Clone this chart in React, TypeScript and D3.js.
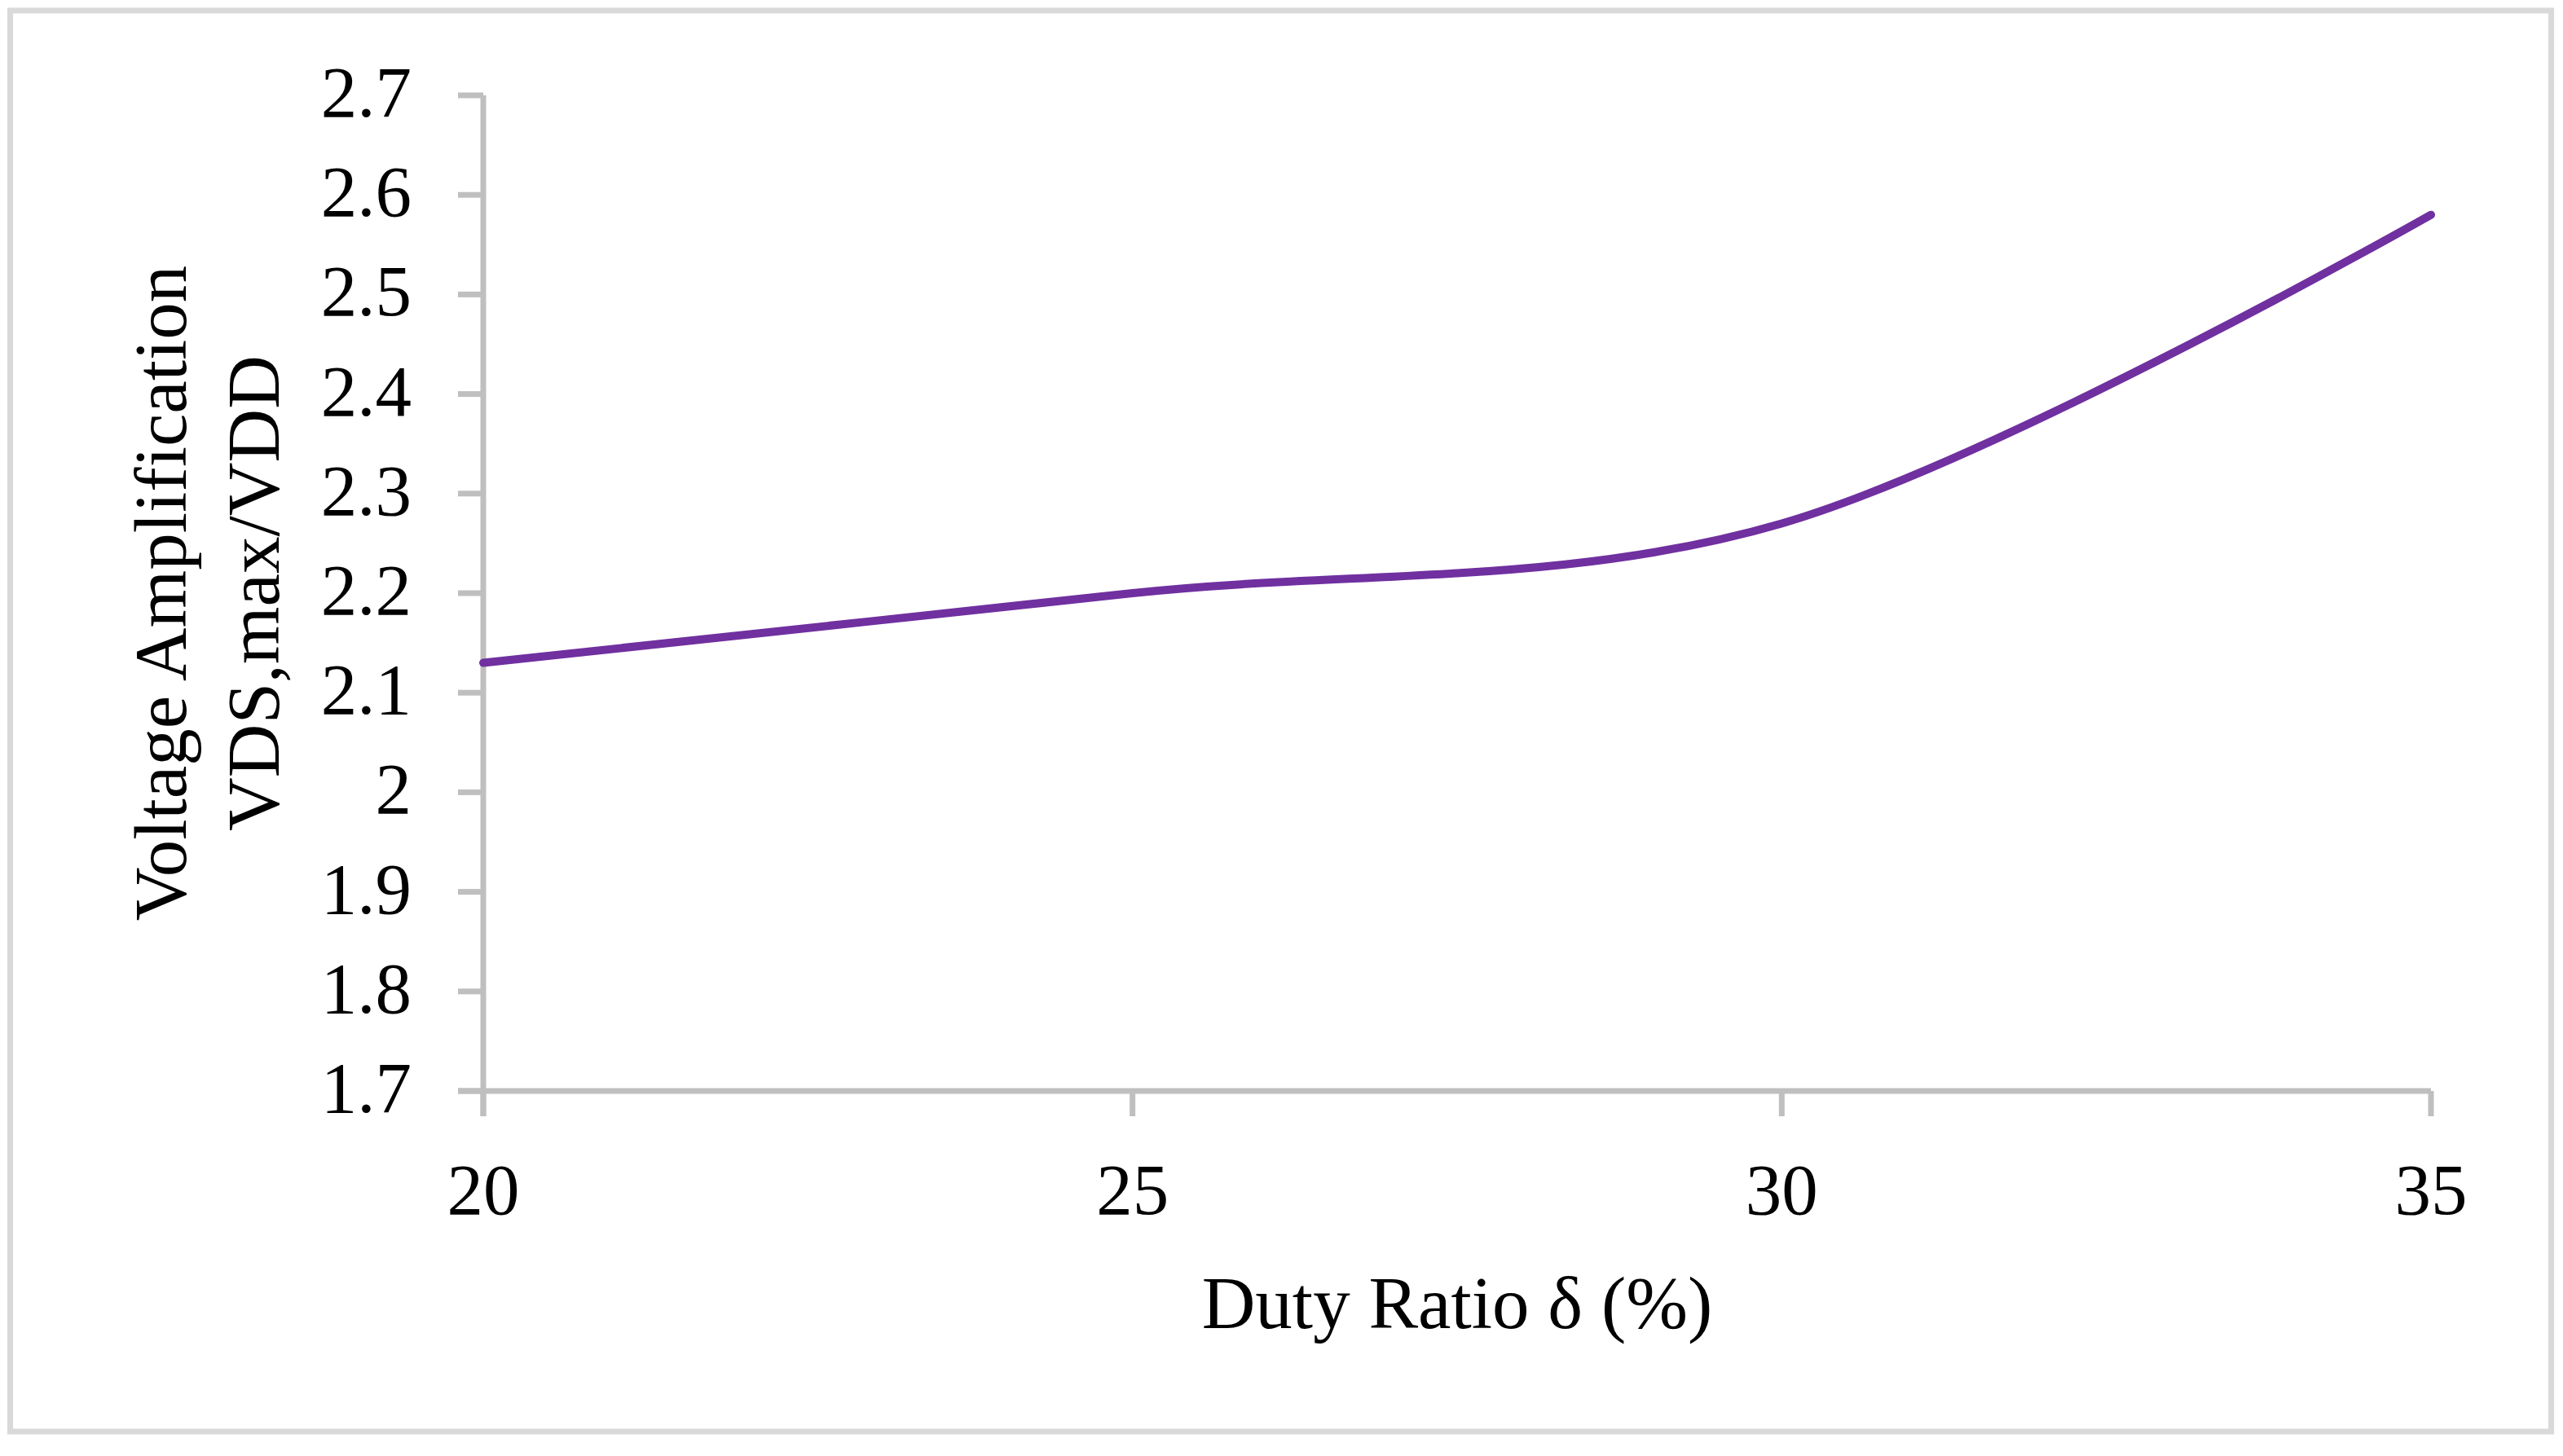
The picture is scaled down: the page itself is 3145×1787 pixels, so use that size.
import React from "react";
import * as d3 from "d3";

const dutyRatio = [20, 25, 30, 35];
const amplification = [2.13, 2.2, 2.27, 2.58];
const xTicks = [20, 25, 30, 35];
const xTickLabels = ["20", "25", "30", "35"];
const yTicks = [1.7, 1.8, 1.9, 2.0, 2.1, 2.2, 2.3, 2.4, 2.5, 2.6, 2.7];
const yTickLabels = ["1.7", "1.8", "1.9", "2", "2.1", "2.2", "2.3", "2.4", "2.5", "2.6", "2.7"];
const xTitle = "Duty Ratio δ (%)";
const yTitle1 = "Voltage Amplification";
const yTitle2 = "VDS,max/VDD";

const W = 3145;
const H = 1787;
const FONT = "'Liberation Serif', 'Times New Roman', serif";
const FS = 89;
const FS_TITLE = 91;
const AXIS = "#bfbfbf";

export default function App() {
  const x = d3.scaleLinear().domain([20, 35]).range([593, 2983]);
  const y = d3.scaleLinear().domain([1.7, 2.7]).range([1339, 117]);
  const line = d3
    .line<number>()
    .x((_, i) => x(dutyRatio[i]))
    .y((d) => y(d))
    .curve(d3.curveCardinal.tension(0));
  const path = line(amplification) || "";
  const x0 = x(20);
  const yBase = y(1.7);
  const tickLen = 31;
  const cy = (y(1.7) + y(2.7)) / 2;
  const cx = (x(20) + x(35)) / 2;

  return (
    <div style={{ position: "absolute", left: 0, top: 0, width: W, height: H, background: "#fff" }}>
      <svg width={W} height={H} viewBox={`0 0 ${W} ${H}`} style={{ display: "block" }}>
        <rect x={0} y={0} width={W} height={H} fill="#fff" />
        <rect x={12.5} y={13} width={3118} height={1744} fill="#fff" stroke="#d9d9d9" strokeWidth={7} />

        {/* y axis */}
        <line x1={x0} x2={x0} y1={y(2.7)} y2={yBase + tickLen} stroke={AXIS} strokeWidth={7} />
        {yTicks.map((t, i) => (
          <g key={"yt" + i}>
            <line x1={x0 - tickLen} x2={x0} y1={y(t)} y2={y(t)} stroke={AXIS} strokeWidth={7} />
            <text
              x={x0 - 88}
              y={y(t) + 26}
              textAnchor="end"
              fontFamily={FONT}
              fontSize={FS}
              fill="#000"
            >
              {yTickLabels[i]}
            </text>
          </g>
        ))}

        {/* x axis */}
        <line x1={x0 - tickLen} x2={x(35)} y1={yBase} y2={yBase} stroke={AXIS} strokeWidth={7} />
        {xTicks.map((t, i) => (
          <g key={"xt" + i}>
            <line x1={x(t)} x2={x(t)} y1={yBase} y2={yBase + tickLen} stroke={AXIS} strokeWidth={7} />
            <text
              x={x(t)}
              y={1490}
              textAnchor="middle"
              fontFamily={FONT}
              fontSize={FS}
              fill="#000"
            >
              {xTickLabels[i]}
            </text>
          </g>
        ))}

        {/* series */}
        <path d={path} fill="none" stroke="#7030A0" strokeWidth={10} strokeLinecap="round" />

        {/* titles */}
        <text x={cx} y={1630} textAnchor="middle" fontFamily={FONT} fontSize={FS_TITLE} fill="#000">
          {xTitle}
        </text>
        <text
          transform={`translate(228, ${cy}) rotate(-90)`}
          textAnchor="middle"
          fontFamily={FONT}
          fontSize={FS_TITLE}
          fill="#000"
        >
          {yTitle1}
        </text>
        <text
          transform={`translate(342, ${cy}) rotate(-90)`}
          textAnchor="middle"
          fontFamily={FONT}
          fontSize={FS_TITLE}
          fill="#000"
        >
          {yTitle2}
        </text>
      </svg>
    </div>
  );
}
